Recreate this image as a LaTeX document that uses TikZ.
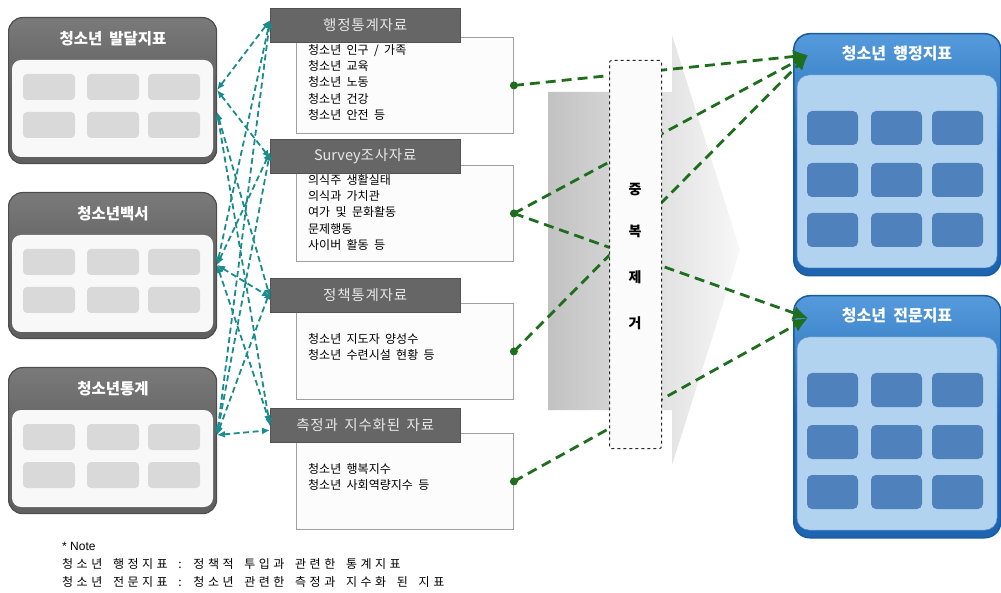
\documentclass[tikz,border=0pt]{standalone}
\usepackage{fontspec}
\setmainfont{Liberation Sans}
\newfontfamily\kr{Noto Sans CJK KR}
\newfontfamily\kritem{Noto Sans CJK KR}[WordSpace=2.2]
\newfontfamily\krnote{Noto Sans CJK KR}[WordSpace=5]
\newfontfamily\krhdr{Noto Sans CJK KR}[WordSpace=2]
\usetikzlibrary{arrows.meta}
% Hangul inter-letter spacing
\newdimen\hangulkern \hangulkern=0pt
\newcount\hcnt \hcnt="AC00
\loop \XeTeXcharclass\hcnt=7 \advance\hcnt by 1 \ifnum\hcnt<"D7A4 \repeat
\XeTeXinterchartoks 7 7 = {\kern\hangulkern}
\newcommand\hdrfont{\XeTeXinterchartokenstate=1\relax\hangulkern=0.8pt\relax\krhdr\fontsize{14.5}{16}\selectfont}
\newcommand\notefont{\XeTeXinterchartokenstate=1\relax\hangulkern=3.5pt\relax\krnote\fontsize{12}{13}\selectfont}
\definecolor{lpanc}{HTML}{606060}
\definecolor{lpantop}{HTML}{7A7A7A}
\definecolor{linner}{HTML}{F8F8F8}
\definecolor{lcell}{HTML}{D9D9D9}
\definecolor{hdrc}{HTML}{666666}
\definecolor{hdrtxt}{HTML}{E8E8E8}
\definecolor{boxedge}{HTML}{A0A0A0}
\definecolor{boxfill}{HTML}{FCFCFC}
\definecolor{tealc}{HTML}{1A8C8C}
\definecolor{greenc}{HTML}{1E6E1E}
\definecolor{rpanc}{HTML}{1E64B0}
\definecolor{rpantop}{HTML}{559BDC}
\definecolor{rpanedge}{HTML}{1A5A9E}
\definecolor{rinner}{HTML}{B1D3EF}
\definecolor{rcell}{HTML}{4F81BD}
\tikzset{
  lpanel/.style={draw=lpanc!80!black, line width=1.2pt, top color=lpantop, bottom color=lpanc, middle color=lpanc, rounded corners=14pt, minimum width=208pt, minimum height=146pt, inner sep=0pt, anchor=north west},
  rpanel/.style={draw=rpanedge, line width=1.5pt, top color=rpantop, bottom color=rpanc, middle color=rpanc, rounded corners=16pt, minimum width=207pt, minimum height=242pt, inner sep=0pt, anchor=north west},
  ltitle/.style={font=\kr\bfseries\fontsize{15.5}{17}\selectfont, text=white},
  rtitle/.style={font=\kr\bfseries\fontsize{16}{18}\selectfont, text=white},
  hdr/.style={fill=hdrc, draw=hdrc!80!black, line width=0.4pt, minimum width=190pt, minimum height=34pt, inner sep=0pt, anchor=north west, text=hdrtxt, font=\hdrfont},
  databox/.style={draw=boxedge, fill=boxfill, line width=0.9pt, minimum width=217pt, minimum height=96pt, inner sep=0pt, anchor=north west},
  items/.style={anchor=north west, align=left, inner sep=0pt, font=\kritem\fontsize{12}{16.3}\selectfont, text=black},
  tealarr/.style={tealc, line width=1.8pt, dash pattern=on 6pt off 3.5pt, {Latex[length=8pt,width=7pt]}-{Latex[length=8pt,width=7pt]}},
  greenarr/.style={greenc, line width=2.8pt, dash pattern=on 10pt off 6pt, -{Latex[length=15pt,width=14pt]}},
  gdot/.style={circle, fill=greenc, inner sep=0pt, minimum size=8pt},
  notetxt/.style={anchor=west, inner sep=0pt, font=\notefont, text=black}
}
\begin{document}
\begin{tikzpicture}[x=1pt,y=-1pt]
\useasboundingbox (0,0) rectangle (1001,593);
% ---------- left panels
\foreach \n/\T/\ttl in {L1/17/{청소년 발달지표}, L2/192/{청소년백서}, L3/367/{청소년통계}} {
  \node[lpanel] (\n) at (8,\T) {};
  \path[fill=linner, rounded corners=9pt] (12,\T+43) rectangle (213,\T+140);
  \foreach \cx in {23,87,148} {
    \fill[lcell, rounded corners=4pt] (\cx,\T+57) rectangle (\cx+52,\T+83);
    \fill[lcell, rounded corners=4pt] (\cx,\T+95) rectangle (\cx+52,\T+121);
  }
  \node[ltitle] (\n t) at (113,\T+22) {\ttl};
}
% ---------- right panels
\foreach \n/\T/\ttl in {R1/33/{청소년 행정지표}, R2/295/{청소년 전문지표}} {
  \node[rpanel] (\n) at (793,\T) {};
  \path[fill=rinner, draw=rpanc!70, line width=0.5pt, rounded corners=12pt] (797,\T+42) rectangle (997,\T+235);
  \foreach \cx in {807,871,932} {
    \foreach \ry in {78,130,180} {
      \fill[rcell, rounded corners=5pt] (\cx,\T+\ry) rectangle (\cx+51,\T+\ry+34);
    }
  }
  \node[rtitle] (\n t) at (897,\T+21) {\ttl};
}
% ---------- middle data boxes
\node[databox] (B1) at (296,37) {};
\node[databox] (B2) at (296,165) {};
\node[databox] (B3) at (296,303) {};
\node[databox] (B4) at (296,433) {};
\node[hdr] (H1) at (270,8) {행정통계자료};
\node[hdr] (H2) at (270,139) {Survey조사자료};
\node[hdr] (H3) at (270,278) {정책통계자료};
\node[hdr] (H4) at (270,408) {측정과 지수화된 자료};
\node[items] (T1) at (308,44) {청소년 인구 / 가족\\청소년 교육\\청소년 노동\\청소년 건강\\청소년 안전 등};
\node[items] (T2) at (308,174) {의식주 생활실태\\의식과 가치관\\여가 및 문화활동\\문제행동\\사이버 활동 등};
\node[items] (T3) at (308,333) {청소년 지도자 양성수\\청소년 수련시설 현황 등};
\node[items] (T4) at (308,463) {청소년 행복지수\\청소년 사회역량지수 등};
% ---------- grey arrow shape
\path[left color=gray!48, right color=gray!6, shading angle=90]
  (548,92) -- (672,92) -- (672,35) -- (740,250) -- (672,465) -- (672,410) -- (548,410) -- cycle;
% ---------- teal connectors
\coordinate (p1a) at (217,90);
\coordinate (p1b) at (217,112);
\coordinate (p2) at (217,265);
\coordinate (p3) at (217,435);
\draw[tealarr] (p1a) -- ([yshift=5pt]H1.west);
\draw[tealarr] (p1a) -- ([yshift=-2pt]H2.west);
\draw[tealarr] (p1b) -- ([yshift=-2pt]H3.west);
\draw[tealarr] (p1b) -- ([yshift=-1pt]H4.west);
\draw[tealarr] (p2) -- ([yshift=5pt]H1.west);
\draw[tealarr] (p2) -- ([yshift=4pt]H2.west);
\draw[tealarr] (p2) -- ([yshift=-2pt]H3.west);
\draw[tealarr] (p2) -- ([yshift=2pt]H4.west);
\draw[tealarr] (p3) -- ([yshift=5pt]H1.west);
\draw[tealarr] (p3) -- ([yshift=4pt]H2.west);
\draw[tealarr] (p3) -- ([yshift=4pt]H3.west);
\draw[tealarr] (p3) -- ([yshift=-5pt]H4.west);
% ---------- green connectors
\coordinate (r1tip) at (808,55);
\coordinate (r2tip) at (808,318);
\node[gdot] (d1) at (B1.east) {};
\node[gdot] (d2) at (B2.east) {};
\node[gdot] (d3) at (B3.east) {};
\node[gdot] (d4) at (B4.east) {};
\draw[greenarr] (d1.center) -- (r1tip);
\draw[greenarr] (d2.center) -- (r1tip);
\draw[greenarr] (d2.center) -- (r2tip);
\draw[greenarr] (d3.center) -- (r1tip);
\draw[greenarr] (d4.center) -- (r2tip);
% ---------- dedup box
\node[draw=black!85, fill=white!97!gray, dashed, line width=1pt, rounded corners=2pt, minimum width=52pt, minimum height=388pt, inner sep=0pt, anchor=north west] (D) at (609,60) {};
\node[font=\kr\bfseries\fontsize{14}{16}\selectfont] (D1) at (635,190) {중};
\node[font=\kr\bfseries\fontsize{14}{16}\selectfont] (D2) at (635,231) {복};
\node[font=\kr\bfseries\fontsize{14}{16}\selectfont] (D3) at (635,277) {제};
\node[font=\kr\bfseries\fontsize{14}{16}\selectfont] (D4) at (635,323) {거};
% ---------- note
\node[anchor=west, inner sep=0pt, font=\fontsize{12}{14}\selectfont] (N0) at (62,546) {* Note};
\node[notetxt] (N1) at (62,564) {청소년 행정지표 : 정책적 투입과 관련한 통계지표};
\node[notetxt] (N2) at (62,582) {청소년 전문지표 : 청소년 관련한 측정과 지수화 된 지표};
\end{tikzpicture}
\end{document}
